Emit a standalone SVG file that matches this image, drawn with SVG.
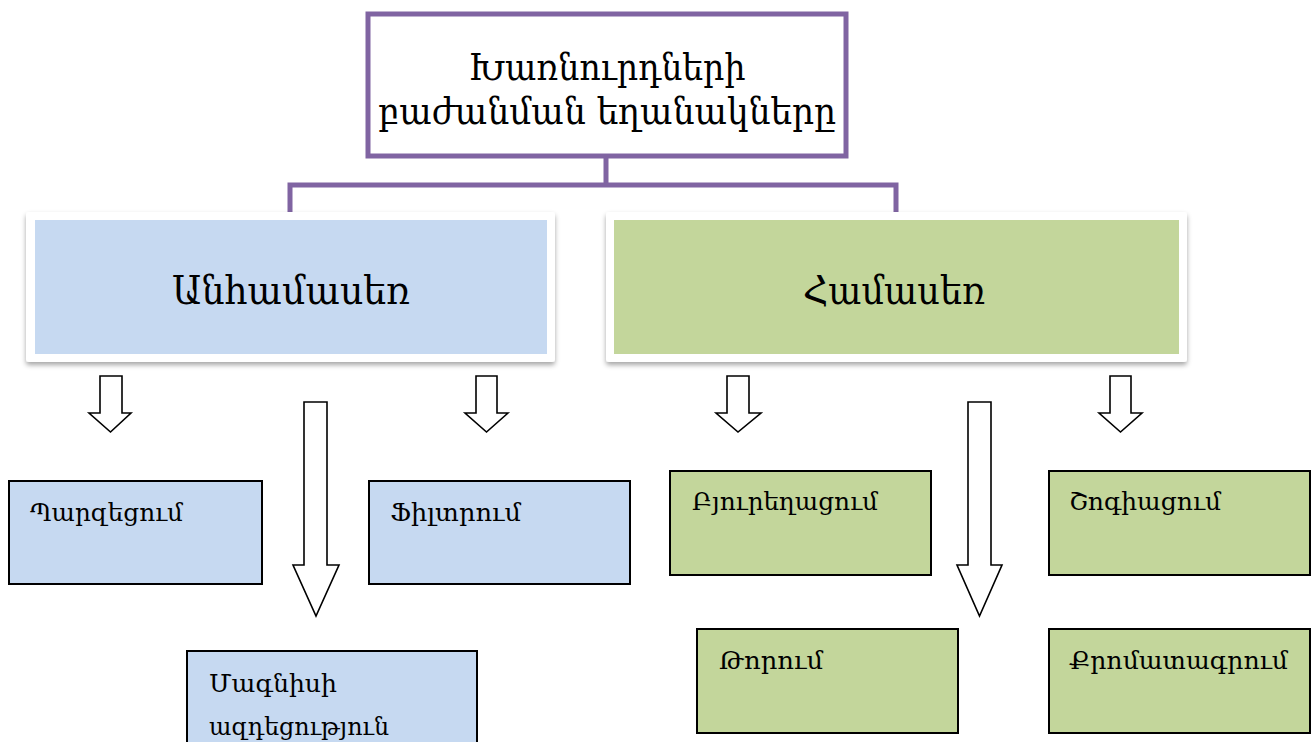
<svg xmlns="http://www.w3.org/2000/svg" width="1315" height="742" viewBox="0 0 1315 742">
<defs>
<filter id="sh" x="-5%" y="-10%" width="110%" height="130%">
<feDropShadow dx="0" dy="3" stdDeviation="2.5" flood-color="#000" flood-opacity="0.35"/>
</filter>
</defs>
<style>
text{font-family:"DejaVu Serif","Liberation Serif",serif;fill:#000}
.t{font-size:37px;text-anchor:middle}
.m{font-size:39px;text-anchor:middle}
.s{font-size:25px}
.blue{fill:#C6D9F1;stroke:#000;stroke-width:2}
.green{fill:#C3D69B;stroke:#000;stroke-width:2}
.arr{fill:#fff;stroke:#000;stroke-width:1.6;stroke-linejoin:miter}
.con{fill:none;stroke:#8064A2;stroke-width:5}
</style>
<rect width="1315" height="742" fill="#fff"/>
<g id="connectors">
<path class="con" d="M606 156V185M290 212V185H896V212"/>
<path class="arr" d="M100 376H122V413H131L110.5 432L89 413H100Z"/>
<path class="arr" d="M476 376H497V413H508L486.5 432L465 413H476Z"/>
<path class="arr" d="M304 402H327V565H339L316 616L293 565H304Z"/>
<path class="arr" d="M727 376H749V413H761L738 432L716 413H727Z"/>
<path class="arr" d="M968 402H991V565H1002L979.5 616L957 565H968Z"/>
<path class="arr" d="M1110 376H1131V413H1142L1120.5 432L1099 413H1110Z"/>
</g>
<g id="root">
<rect x="368" y="14" width="478" height="142" fill="#fff" stroke="#8064A2" stroke-width="5"/>
<text class="t" x="607" y="80" textLength="277" lengthAdjust="spacingAndGlyphs">Խառնուրդների</text>
<text class="t" x="607" y="124" textLength="458" lengthAdjust="spacingAndGlyphs">բաժանման եղանակները</text>
</g>
<g id="anhamaser">
<rect x="26" y="212" width="529" height="150" rx="3" fill="#fff" filter="url(#sh)"/>
<rect x="35" y="220" width="512" height="134" fill="#C6D9F1"/>
<text class="m" x="291" y="304" textLength="238" lengthAdjust="spacingAndGlyphs">Անհամասեռ</text>
</g>
<g id="hamaser">
<rect x="606" y="212" width="581" height="150" rx="3" fill="#fff" filter="url(#sh)"/>
<rect x="614" y="220" width="565" height="134" fill="#C3D69B"/>
<text class="m" x="894" y="304" textLength="182" lengthAdjust="spacingAndGlyphs">Համասեռ</text>
</g>
<g id="parzecum">
<rect class="blue" x="9" y="481" width="253" height="103"/>
<text class="s" x="30" y="521" textLength="153" lengthAdjust="spacingAndGlyphs">Պարզեցում</text>
</g>
<g id="filtrum">
<rect class="blue" x="369" y="481" width="261" height="103"/>
<text class="s" x="390" y="521" textLength="131" lengthAdjust="spacingAndGlyphs">Ֆիլտրում</text>
</g>
<g id="magnisi">
<rect class="blue" x="187" y="651" width="290" height="100"/>
<text class="s" x="209" y="692" textLength="128" lengthAdjust="spacingAndGlyphs">Մագնիսի</text>
<text class="s" x="209" y="735" textLength="180" lengthAdjust="spacingAndGlyphs">ազդեցություն</text>
</g>
<g id="byureghacum">
<rect class="green" x="670" y="471" width="261" height="104"/>
<text class="s" x="692" y="510" textLength="186" lengthAdjust="spacingAndGlyphs">Բյուրեղացում</text>
</g>
<g id="shogiacum">
<rect class="green" x="1049" y="471" width="261" height="104"/>
<text class="s" x="1069" y="510" textLength="152" lengthAdjust="spacingAndGlyphs">Շոգիացում</text>
</g>
<g id="torum">
<rect class="green" x="697" y="629" width="261" height="104"/>
<text class="s" x="719" y="669" textLength="104" lengthAdjust="spacingAndGlyphs">Թորում</text>
</g>
<g id="qromatagrum">
<rect class="green" x="1049" y="629" width="261" height="104"/>
<text class="s" x="1069" y="669" textLength="219" lengthAdjust="spacingAndGlyphs">Քրոմատագրում</text>
</g>
</svg>
